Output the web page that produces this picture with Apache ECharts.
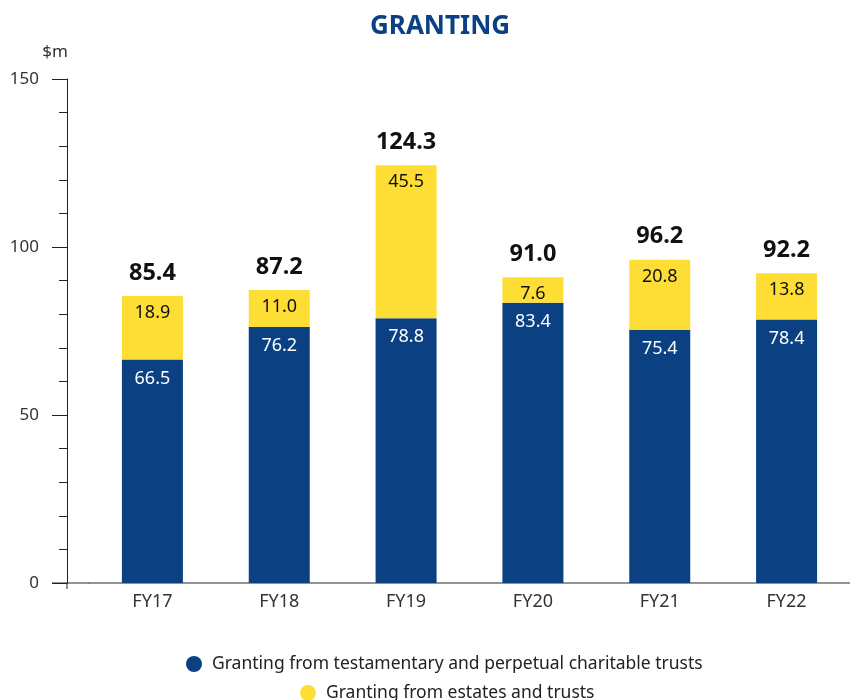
<!DOCTYPE html>
<html>
<head>
<meta charset="utf-8">
<script src="https://cdn.jsdelivr.net/npm/echarts@6/dist/echarts.min.js"></script>
<style>
  html, body { margin: 0; padding: 0; background: #fff; }
  #chart { width: 850px; height: 700px; }
</style>
</head>
<body>
<div id="chart"></div>
<script>
// categories and values
var years = ['FY17', 'FY18', 'FY19', 'FY20', 'FY21', 'FY22'];
var charitableTrusts = [66.5, 76.2, 78.8, 83.4, 75.4, 78.4];
var estatesTrusts = [18.9, 11.0, 45.5, 7.6, 20.8, 13.8];
var totals = [85.4, 87.2, 124.3, 91.0, 96.2, 92.2];

var NAVY = '#0B4083';
var YELLOW = '#FEDE35';
var FONT = 'Noto Sans';

var chart = echarts.init(document.getElementById('chart'));

chart.setOption({
  textStyle: { fontFamily: FONT },
  animation: false,
  title: {
    text: 'GRANTING',
    left: 365,
    top: 9,
    textStyle: { color: NAVY, fontSize: 26, fontWeight: 'bold', fontFamily: FONT }
  },
  legend: [
    {
      data: ['Granting from testamentary and perpetual charitable trusts'],
      left: 181,
      top: 650,
      icon: 'circle',
      itemWidth: 16,
      itemHeight: 16,
      textStyle: { fontSize: 17.5, color: '#222', fontFamily: FONT, padding: [0, 0, 0, 5] }
    },
    {
      data: ['Granting from estates and trusts'],
      left: 295,
      top: 679,
      icon: 'circle',
      itemWidth: 16,
      itemHeight: 16,
      textStyle: { fontSize: 17.5, color: '#222', fontFamily: FONT, padding: [0, 0, 0, 5] }
    }
  ],
  grid: { left: 89, top: 79, width: 762, bottom: 117 },
  xAxis: {
    type: 'category',
    data: years,
    axisLine: { lineStyle: { color: '#707070', width: 1.5 } },
    axisTick: { show: false },
    axisLabel: { color: '#333', fontSize: 18, margin: 10 }
  },
  yAxis: {
    type: 'value',
    min: 0,
    max: 150,
    interval: 50,
    offset: 22,
    name: '$m',
    nameLocation: 'end',
    nameGap: 18,
    nameTextStyle: { color: '#333', fontSize: 17, padding: [0, 24, 0, 0] },
    axisLine: { show: true, lineStyle: { color: '#222', width: 1 } },
    axisTick: { show: true, length: 15, lineStyle: { color: '#222' } },
    minorTick: { show: true, splitNumber: 5, length: 8, lineStyle: { color: '#222' } },
    splitLine: { show: false },
    minorSplitLine: { show: false },
    axisLabel: { color: '#333', fontSize: 17, margin: 28 }
  },
  graphic: [
    { type: 'line', shape: { x1: 52, y1: 583, x2: 90, y2: 583 }, style: { stroke: '#707070', lineWidth: 1.5 } },
    { type: 'line', shape: { x1: 67, y1: 583, x2: 67, y2: 589 }, style: { stroke: '#222', lineWidth: 1 } }
  ],
  series: [
    {
      name: 'Granting from testamentary and perpetual charitable trusts',
      type: 'bar',
      stack: 'g',
      barWidth: 61,
      data: charitableTrusts,
      itemStyle: { color: NAVY },
      label: {
        show: true,
        position: 'insideTop',
        distance: 10,
        color: '#fff',
        fontSize: 18,
        formatter: function (p) { return p.value.toFixed(1); }
      }
    },
    {
      name: 'Granting from estates and trusts',
      type: 'bar',
      stack: 'g',
      barWidth: 61,
      data: estatesTrusts,
      itemStyle: { color: YELLOW },
      label: {
        show: true,
        position: 'insideTop',
        distance: 8,
        color: '#111',
        fontSize: 18,
        formatter: function (p) { return p.value.toFixed(1); }
      }
    },
    {
      name: 'total',
      type: 'bar',
      stack: 'g',
      barWidth: 61,
      data: totals.map(function () { return 0; }),
      itemStyle: { color: 'transparent' },
      label: {
        show: true,
        position: 'top',
        distance: 11,
        color: '#111',
        fontSize: 23.5,
        fontWeight: 'bold',
        formatter: function (p) { return totals[p.dataIndex].toFixed(1); }
      }
    }
  ]
});
</script>
</body>
</html>
